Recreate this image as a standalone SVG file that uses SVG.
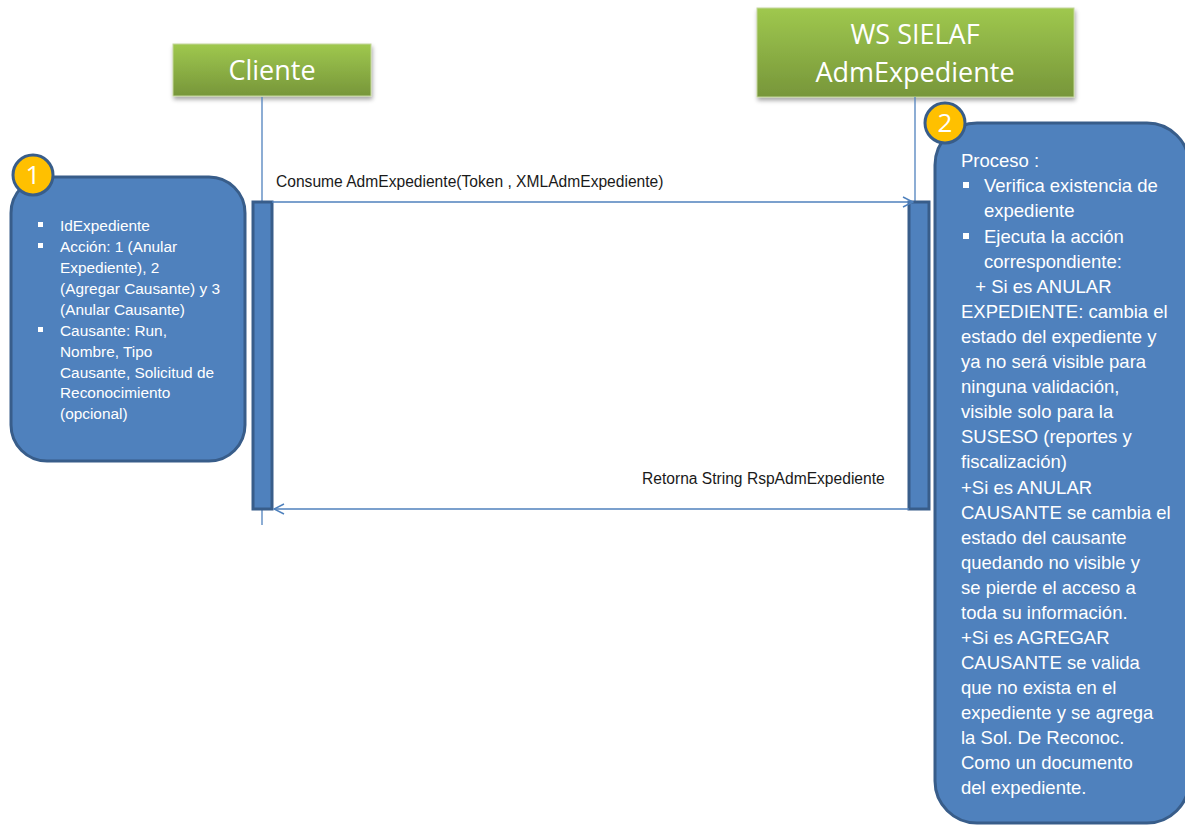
<svg xmlns="http://www.w3.org/2000/svg" width="1185" height="825" viewBox="0 0 1185 825">
<defs>
<linearGradient id="green" x1="0" y1="0" x2="0" y2="1">
<stop offset="0" stop-color="#9fc84e"/>
<stop offset="1" stop-color="#77963a"/>
</linearGradient>
<filter id="shadow" x="-10%" y="-10%" width="120%" height="140%">
<feDropShadow dx="1" dy="3" stdDeviation="2" flood-color="#000" flood-opacity="0.35"/>
</filter>
<marker id="open" viewBox="0 0 12 12" refX="11" refY="6" markerWidth="12" markerHeight="12" markerUnits="userSpaceOnUse" orient="auto">
<path d="M1,1 L11,6 L1,11" fill="none" stroke="#4f81bd" stroke-width="1.5"/>
</marker>
<style>
.actor{fill:url(#green);stroke:#c3d69b;stroke-width:1;filter:url(#shadow)}
.actorText{font-family:"Open Sans","Liberation Sans",sans-serif;font-size:27px;fill:#fff;text-anchor:middle}
.life{stroke:#4f81bd;stroke-width:1.3;fill:none}
.act{fill:#4f81bd;stroke:#385d8a;stroke-width:3}
.note{fill:#4f81bd;stroke:#385d8a;stroke-width:3}
.badge{fill:#ffc000;stroke:#385d8a;stroke-width:3}
.badgeText{font-family:"Open Sans","Liberation Sans",sans-serif;font-size:26px;fill:#fff;text-anchor:middle}
.msg{stroke:#4f81bd;stroke-width:1.5;fill:none}
.msgText{font-family:"Liberation Sans",sans-serif;font-size:15.6px;fill:#1a1a1a}
.t1{font-family:"Liberation Sans",sans-serif;font-size:15.4px;fill:#fff}
.t2{font-family:"Liberation Sans",sans-serif;font-size:18.5px;fill:#fff}
</style>
</defs>
<rect width="1185" height="825" fill="#fff"/>

<g id="actor-cliente">
<rect class="actor" x="173" y="44" width="198" height="52"/>
<text class="actorText" x="272" y="80">Cliente</text>
</g>
<g id="actor-ws">
<rect class="actor" x="757" y="8" width="317" height="89"/>
<text class="actorText" x="915" y="44">WS SIELAF</text>
<text class="actorText" x="915" y="82">AdmExpediente</text>
</g>

<g id="lifelines">
<line class="life" x1="262" y1="97" x2="262" y2="525"/>
<line class="life" x1="915" y1="97" x2="915" y2="205"/>
</g>

<g id="activation-cliente">
<rect class="act" x="253" y="202" width="19" height="307"/>
</g>
<g id="activation-ws">
<rect class="act" x="909" y="202" width="20" height="307"/>
</g>

<g id="connectors">
<line class="msg" x1="272" y1="202" x2="913" y2="202" marker-end="url(#open)"/>
<text class="msgText" x="276" y="187">Consume AdmExpediente(Token , XMLAdmExpediente)</text>
<line class="msg" x1="909" y1="509" x2="274" y2="509" marker-end="url(#open)"/>
<text class="msgText" x="642" y="484">Retorna String RspAdmExpediente</text>
</g>

<g id="note-1">
<rect class="note" x="11" y="177" width="234" height="284" rx="36" ry="36"/>
<circle class="badge" cx="33" cy="175" r="20"/>
<text class="badgeText" x="33" y="184">1</text>
<rect x="38" y="222" width="5" height="5" fill="#fff"/>
<rect x="38" y="243" width="5" height="5" fill="#fff"/>
<rect x="38" y="327" width="5" height="5" fill="#fff"/>
<text class="t1" x="60" y="231">IdExpediente</text>
<text class="t1" x="60" y="252">Acción: 1 (Anular</text>
<text class="t1" x="60" y="273">Expediente), 2</text>
<text class="t1" x="60" y="294">(Agregar Causante) y 3</text>
<text class="t1" x="60" y="315">(Anular Causante)</text>
<text class="t1" x="60" y="336">Causante: Run,</text>
<text class="t1" x="60" y="357">Nombre, Tipo</text>
<text class="t1" x="60" y="378">Causante, Solicitud de</text>
<text class="t1" x="60" y="398">Reconocimiento</text>
<text class="t1" x="60" y="419">(opcional)</text>
</g>

<g id="note-2">
<rect class="note" x="935" y="123" width="254" height="700" rx="42" ry="42"/>
<circle class="badge" cx="945" cy="123" r="20"/>
<text class="badgeText" x="945" y="132">2</text>
<rect x="963" y="182" width="6" height="6" fill="#fff"/>
<rect x="963" y="233" width="6" height="6" fill="#fff"/>
<text class="t2" x="961" y="167">Proceso :</text>
<text class="t2" x="984" y="192">Verifica existencia de</text>
<text class="t2" x="984" y="217">expediente</text>
<text class="t2" x="984" y="243">Ejecuta la acción</text>
<text class="t2" x="984" y="268">correspondiente:</text>
<text class="t2" x="965" y="293" xml:space="preserve">  + Si es ANULAR</text>
<text class="t2" x="961" y="318">EXPEDIENTE: cambia el</text>
<text class="t2" x="961" y="343">estado del expediente y</text>
<text class="t2" x="961" y="368">ya no será visible para</text>
<text class="t2" x="961" y="393">ninguna validación,</text>
<text class="t2" x="961" y="418">visible solo para la</text>
<text class="t2" x="961" y="443">SUSESO (reportes y</text>
<text class="t2" x="961" y="468">fiscalización)</text>
<text class="t2" x="961" y="494">+Si es ANULAR</text>
<text class="t2" x="961" y="519">CAUSANTE se cambia el</text>
<text class="t2" x="961" y="544">estado del causante</text>
<text class="t2" x="961" y="569">quedando no visible y</text>
<text class="t2" x="961" y="594">se pierde el acceso a</text>
<text class="t2" x="961" y="619">toda su información.</text>
<text class="t2" x="961" y="644">+Si es AGREGAR</text>
<text class="t2" x="961" y="669">CAUSANTE se valida</text>
<text class="t2" x="961" y="694">que no exista en el</text>
<text class="t2" x="961" y="719">expediente y se agrega</text>
<text class="t2" x="961" y="744">la Sol. De Reconoc.</text>
<text class="t2" x="961" y="769">Como un documento</text>
<text class="t2" x="961" y="794">del expediente.</text>
</g>
</svg>
